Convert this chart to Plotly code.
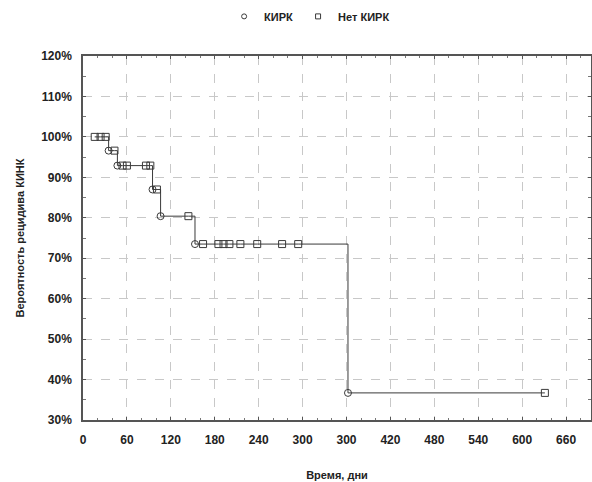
import plotly.graph_objects as go

# Kaplan-Meier data (days, survival %)
event_days = [35, 47, 95, 106, 153, 362]
event_surv = [96.6, 92.9, 87.0, 80.4, 73.5, 36.7]
censor_days = [16, 24, 31, 43, 54, 60, 86, 92, 101, 144,
               164, 185, 192, 200, 215, 238, 272, 294, 631]
censor_surv = [100, 100, 100, 96.6, 92.9, 92.9, 92.9, 92.9, 87.0, 80.4,
               73.5, 73.5, 73.5, 73.5, 73.5, 73.5, 73.5, 73.5, 36.7]

x_tickvals = [0, 60, 120, 180, 240, 300, 360, 420, 480, 540, 600, 660]
x_ticktext = ["0", "60", "120", "180", "240", "300", "300", "420", "480", "540", "600", "660"]
y_tickvals = [30, 40, 50, 60, 70, 80, 90, 100, 110, 120]
y_ticktext = [f"{v}%" for v in y_tickvals]

pts = sorted(list(zip(event_days, event_surv)) + list(zip(censor_days, censor_surv)))
line_x = [p[0] for p in pts]
line_y = [p[1] for p in pts]

ink = "#3a3a3a"
fig = go.Figure()
fig.add_trace(go.Scatter(x=line_x, y=line_y, mode="lines", line_shape="hv",
                         line=dict(color=ink, width=1), showlegend=False, hoverinfo="skip"))
fig.add_trace(go.Scatter(x=event_days, y=event_surv, mode="markers", name="КИРК", showlegend=False,
                         marker=dict(symbol="circle-open", size=7, color=ink, line=dict(width=1, color=ink))))
fig.add_trace(go.Scatter(x=censor_days, y=censor_surv, mode="markers", name="Нет КИРК", showlegend=False,
                         marker=dict(symbol="square-open", size=7, color=ink, line=dict(width=1, color=ink))))
# legend entries with smaller symbols
fig.add_trace(go.Scatter(x=[None], y=[None], mode="markers", name="КИРК",
                         marker=dict(symbol="circle-open", size=5, color=ink, line=dict(width=1, color=ink))))
fig.add_trace(go.Scatter(x=[None], y=[None], mode="markers", name="Нет КИРК",
                         marker=dict(symbol="square-open", size=5, color=ink, line=dict(width=1, color=ink))))

tickfont = dict(family="Liberation Sans, Arial", size=12, color="#222", weight="bold")
fig.update_layout(
    width=592, height=482,
    margin=dict(l=83, r=1, t=56, b=62),
    paper_bgcolor="white", plot_bgcolor="white",
    font=dict(family="Liberation Sans, Arial", color="#222"),
    legend=dict(orientation="h", xref="container", yref="container",
                x=0.523, xanchor="center", y=0.966, yanchor="middle",
                font=dict(size=11, weight="bold"), itemwidth=30, tracegroupgap=0,
                bgcolor="rgba(0,0,0,0)"),
    xaxis=dict(range=[0, 694], tickvals=x_tickvals, ticktext=x_ticktext, automargin=False,
               tickfont=tickfont, showgrid=True, gridcolor="#c8c8c8", griddash="dash", gridwidth=1,
               showline=True, linecolor="#555", linewidth=2, mirror="allticks",
               ticks="inside", ticklen=3, tickcolor="#555", ticklabelstandoff=8,
               minor=dict(dtick=20, tick0=0, ticks="inside", ticklen=2, tickcolor="#777", showgrid=False),
               zeroline=False,
               title=dict(text="Время, дни", font=dict(size=11, weight="bold"), standoff=25)),
    yaxis=dict(range=[30, 120], tickvals=y_tickvals, ticktext=y_ticktext, automargin=False,
               tickfont=tickfont, showgrid=True, gridcolor="#c8c8c8", griddash="dash", gridwidth=1,
               showline=True, linecolor="#555", linewidth=1.5, mirror="allticks",
               ticks="inside", ticklen=3, tickcolor="#555", ticklabelstandoff=7,
               minor=dict(dtick=5, tick0=0, ticks="inside", ticklen=3, tickcolor="#777", showgrid=False),
               zeroline=False,
               title=dict(text="Вероятность рецидива КИНК", font=dict(size=11, weight="bold"), standoff=14)),
)
fig.write_html("out.html", config={"displayModeBar": False},
               post_script="document.body.style.margin='0';document.body.style.overflow='hidden';")
